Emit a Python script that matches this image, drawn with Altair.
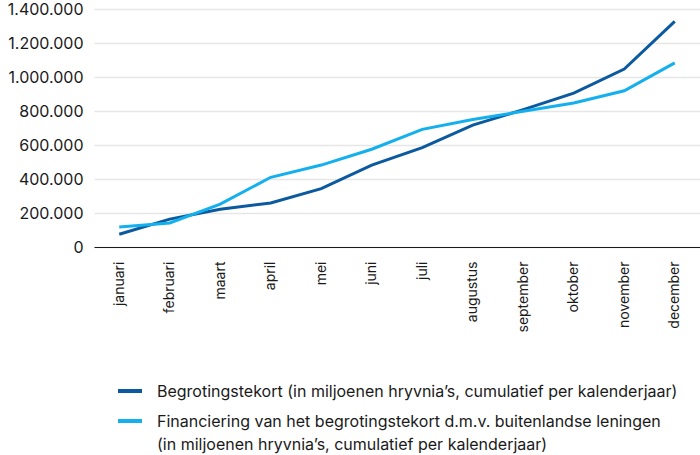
import altair as alt
import pandas as pd

months = ["januari", "februari", "maart", "april", "mei", "juni", "juli",
          "augustus", "september", "oktober", "november", "december"]

# Cumulative values per calendar year, in millions of hryvnia
tekort = [75000, 164000, 222000, 259000, 343000, 482000, 585000,
          717000, 808000, 905000, 1047000, 1327000]
financiering = [118000, 141000, 252000, 410000, 482000, 575000, 692000,
                750000, 798000, 847000, 919000, 1083000]

series_names = [
    "Begrotingstekort (in miljoenen hryvnia’s, cumulatief per kalenderjaar)",
    "Financiering van het begrotingstekort d.m.v. buitenlandse leningen\n(in miljoenen hryvnia’s, cumulatief per kalenderjaar)",
]
series_colors = ["#0b5aa0", "#14b0ee"]

rows = []
for m, a, b in zip(months, tekort, financiering):
    rows.append({"maand": m, "serie": series_names[0], "waarde": a})
    rows.append({"maand": m, "serie": series_names[1], "waarde": b})
df = pd.DataFrame(rows)

font = "Inter"
ink = "#1a1a1a"

lines = (
    alt.Chart(df)
    .mark_line(strokeWidth=3)
    .encode(
        x=alt.X(
            "maand:N",
            sort=months,
            title=None,
            scale=alt.Scale(paddingInner=1, paddingOuter=0.5),
            axis=alt.Axis(
                labelAngle=-90,
                labelAlign="right",
                labelBaseline="middle",
                labelPadding=14,
                labelFontSize=14,
                labelColor=ink,
                ticks=False,
                grid=False,
                domain=True,
                domainColor=ink,
                domainWidth=1.2,
            ),
        ),
        y=alt.Y(
            "waarde:Q",
            title=None,
            scale=alt.Scale(domain=[0, 1400000], nice=False),
            axis=alt.Axis(
                values=[0, 200000, 400000, 600000, 800000, 1000000, 1200000, 1400000],
                format=",d",
                labelFontSize=16,
                labelColor=ink,
                labelPadding=11,
                ticks=False,
                domain=False,
                grid=True,
                gridColor="#e6e6e6",
                gridWidth=1.5,
            ),
        ),
        color=alt.Color(
            "serie:N",
            sort=series_names,
            scale=alt.Scale(domain=series_names, range=series_colors),
            legend=None,
        ),
    )
)

# Legend below the x axis: a short stroke and a label per series
legend_layers = []
legend_rows = [382, 412]
for name, color, ypos in zip(series_names, series_colors, legend_rows):
    entry = pd.DataFrame({"label": [name]})
    legend_layers.append(
        alt.Chart(entry)
        .mark_rule(strokeWidth=4, color=color)
        .encode(x=alt.value(24), x2=alt.value(48), y=alt.value(ypos))
    )
    legend_layers.append(
        alt.Chart(entry)
        .mark_text(align="left", baseline="top", fontSize=16, color=ink,
                   lineBreak="\n", lineHeight=23, font=font)
        .encode(text="label:N", x=alt.value(63), y=alt.value(ypos - 7))
    )

chart = (
    alt.layer(lines, *legend_layers)
    .properties(
        width=606,
        height=238,
        autosize=alt.AutoSizeParams(type="none"),
        padding={"left": 94, "top": 9, "right": 0, "bottom": 208},
    )
    .configure(
        font=font,
        locale={"number": {"decimal": ",", "thousands": ".", "grouping": [3], "currency": ["€", ""]}},
    )
    .configure_view(stroke=None)
    .configure_axis(labelFont=font)
)

chart.save("out.html", embed_options={"renderer": "svg", "actions": False})
